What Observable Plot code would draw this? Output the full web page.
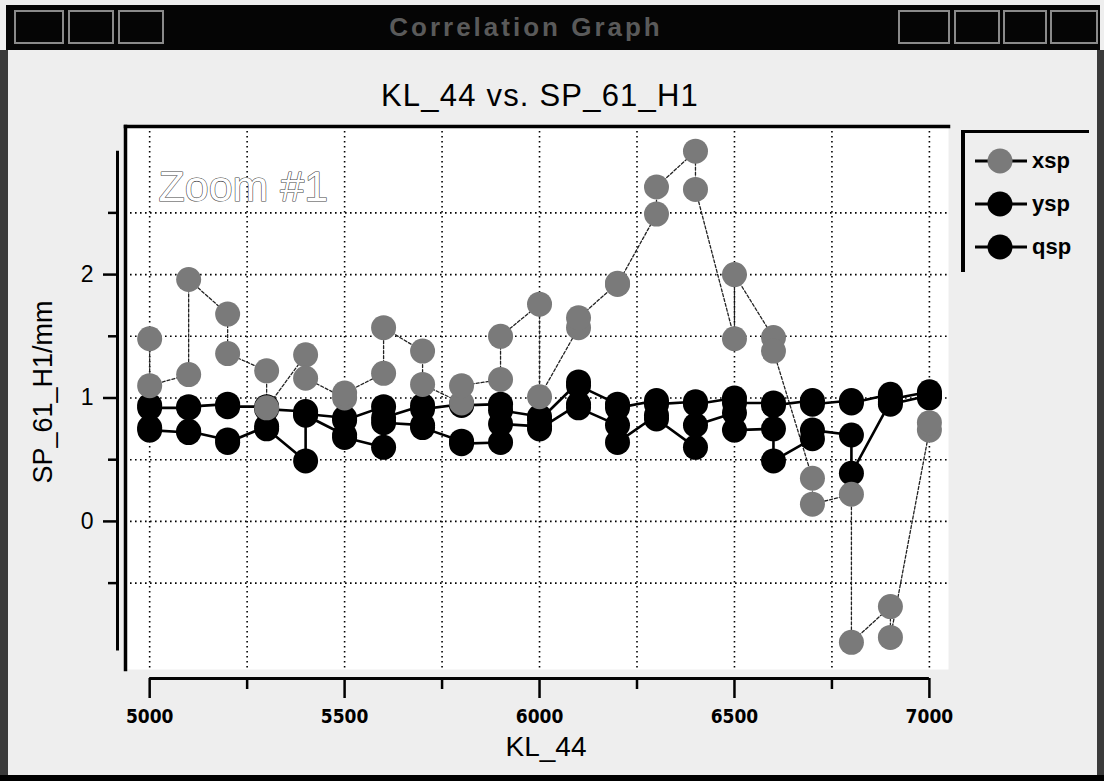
<!DOCTYPE html>
<html>
<head>
<meta charset="utf-8">
<script src="https://cdn.jsdelivr.net/npm/d3@7"></script>
<script src="https://cdn.jsdelivr.net/npm/@observablehq/plot@0.6"></script>
<style>
  html, body { margin: 0; padding: 0; background: #ededed; }
  #win { position: relative; width: 1104px; height: 781px; overflow: hidden; background: #eeeeee;
         font-family: "Liberation Sans", Arial, Helvetica, sans-serif; color: #000; }
  #bar { position: absolute; left: 6px; top: 5px; width: 1094px; height: 45px; background: #050505; }
  .btn { position: absolute; top: 5px; height: 34px; border: 2px solid #8a8a8a; box-sizing: border-box; }
  #bartitle { position: absolute; left: 0; top: 7px; width: 1040px; text-align: center; color: #5a5a5a;
              font-size: 26px; letter-spacing: 3px; font-weight: bold; }
  #lb { position: absolute; left: 0; top: 50px; width: 8px; height: 731px; background: #3a3a3a; }
  #rb { position: absolute; left: 1097px; top: 50px; width: 7px; height: 731px; background: #3a3a3a; }
  #bb { position: absolute; left: 0; top: 775px; width: 1104px; height: 6px; background: #000; }
  #title { position: absolute; left: 0; top: 78px; width: 1080px; text-align: center; font-size: 31px;
           letter-spacing: 1.2px; }
  #chart { position: absolute; left: 0; top: 60px; }
  #legend { position: absolute; left: 961px; top: 130px; width: 128px; height: 142px;
            border-top: 3px solid #000; border-left: 4px solid #000; box-sizing: border-box; }
  .item { position: absolute; left: 8px; height: 30px; display: flex; align-items: center; }
  .item span { font-size: 22px; font-weight: bold; margin-left: 3px; }
</style>
</head>
<body>
<div id="win">
  <div id="bar">
    <div class="btn" style="left:8px;width:50px"></div>
    <div class="btn" style="left:62px;width:46px"></div>
    <div class="btn" style="left:112px;width:46px"></div>
    <div id="bartitle">Correlation Graph</div>
    <div class="btn" style="left:892px;width:52px"></div>
    <div class="btn" style="left:948px;width:46px"></div>
    <div class="btn" style="left:997px;width:44px"></div>
    <div class="btn" style="left:1044px;width:48px"></div>
  </div>
  <div id="lb"></div><div id="rb"></div><div id="bb"></div>
  <div id="title">KL_44 vs. SP_61_H1</div>
  <div id="chart"></div>
  <div id="legend"></div>
</div>
<script>
// ---- data ----
const kl44 = [5000, 5100, 5200, 5300, 5400, 5500, 5600, 5700, 5800, 5900, 6000,
              6100, 6200, 6300, 6400, 6500, 6600, 6700, 6800, 6900, 7000];
// two readings per KL_44 value, in drawing order
const xsp = [[1.48, 1.10], [1.19, 1.96], [1.68, 1.36], [1.22, 0.92], [1.35, 1.16],
             [1.00, 1.04], [1.20, 1.57], [1.38, 1.11], [0.96, 1.10], [1.15, 1.50],
             [1.76, 1.01], [1.57, 1.65], [1.93, 1.92], [2.49, 2.71], [3.00, 2.69],
             [1.48, 2.00], [1.49, 1.38], [0.35, 0.14], [0.22, -0.98], [-0.69, -0.94],
             [0.74, 0.80]];
const ysp = [[0.94, 0.92], [0.92, 0.93], [0.95, 0.93], [0.93, 0.91], [0.89, 0.87],
             [0.84, 0.82], [0.93, 0.84], [0.94, 0.91], [0.95, 0.94], [0.95, 0.90],
             [0.85, 0.82], [1.13, 1.10], [0.95, 0.92], [0.98, 0.95], [0.97, 0.95],
             [1.00, 0.96], [0.96, 0.94], [0.98, 0.95], [0.98, 0.96], [1.03, 0.99],
             [1.05, 1.03]];
const qsp = [[0.76, 0.74], [0.72, 0.73], [0.66, 0.64], [0.77, 0.75], [0.49, 0.86],
             [0.70, 0.68], [0.60, 0.80], [0.78, 0.76], [0.65, 0.63], [0.64, 0.79],
             [0.77, 0.75], [0.95, 0.92], [0.78, 0.64], [0.86, 0.83], [0.60, 0.78],
             [0.88, 0.74], [0.75, 0.49], [0.67, 0.74], [0.70, 0.39], [0.97, 0.95],
             [1.02, 1.00]];
const seriesNames = ["xsp", "ysp", "qsp"];
const xMajorTicks = [5000, 5500, 6000, 6500, 7000];
const xMinorTicks = [5250, 5750, 6250, 6750];
const yMajorTicks = [0, 1, 2];
const yMinorTicks = [-0.5, 0.5, 1.5, 2.5];
const xGrid = [5000, 5250, 5500, 5750, 6000, 6250, 6500, 6750, 7000];
const yGrid = [-0.5, 0, 0.5, 1, 1.5, 2, 2.5];
const xDomain = [4938, 7049];
const yDomain = [-1.2, 3.2];
const yAxisSpan = [-1.05, 3.0];

// ---- table ----
const toRows = (name, pairs) => pairs.flatMap((p, i) => p.map(v => ({series: name, kl: kl44[i], v})));
const rX = toRows("xsp", xsp), rY = toRows("ysp", ysp), rQ = toRows("qsp", qsp);

const GREY = "#7a7a7a";
const grid = {stroke: "#000", strokeOpacity: 1, strokeWidth: 1.6, strokeDasharray: "1.6,3.4"};
const tickFont = "'Liberation Sans Narrow', 'DejaVu Sans Condensed', 'Liberation Sans', sans-serif";
const plain = d => String(d);

const chart = Plot.plot({
  width: 1104, height: 710,
  marginLeft: 125, marginRight: 156, marginTop: 66, marginBottom: 101,
  style: {background: "transparent", fontFamily: "'Liberation Sans', Arial, sans-serif", overflow: "visible"},
  x: {domain: xDomain},
  y: {domain: yDomain},
  marks: [
    Plot.frame({fill: "white", stroke: "none"}),
    Plot.gridX(xGrid, grid),
    Plot.gridY(yGrid, grid),
    Plot.frame({anchor: "top", strokeWidth: 3.5}),
    Plot.frame({anchor: "left", strokeWidth: 3.5}),
    // offset axes
    Plot.ruleY([yDomain[0]], {x1: xMajorTicks[0], x2: xMajorTicks[xMajorTicks.length - 1], dy: 9, strokeWidth: 3}),
    Plot.ruleX([xDomain[0]], {y1: yAxisSpan[0], y2: yAxisSpan[1], dx: -8, strokeWidth: 3}),
    Plot.axisX(xMajorTicks, {anchor: "bottom", tickSize: 20, tickPadding: 11, dy: 9, strokeWidth: 2.5,
      fontSize: 19, fontWeight: "bold", fontFamily: tickFont, tickFormat: plain, label: null}),
    Plot.axisX(xMinorTicks, {anchor: "bottom", tickSize: 11, dy: 9, strokeWidth: 2.5, tickFormat: () => "", label: null}),
    Plot.axisY(yMajorTicks, {anchor: "left", tickSize: 14, tickPadding: 10, dx: -8, strokeWidth: 2.5,
      fontSize: 23, tickFormat: plain, label: null}),
    Plot.axisY(yMinorTicks, {anchor: "left", tickSize: 9, dx: -8, strokeWidth: 2.5, tickFormat: () => "", label: null}),
    Plot.text(["SP_61_H1/mm"], {frameAnchor: "left", textAnchor: "middle", dx: -82, dy: -6, rotate: -90, fontSize: 27}),
    Plot.text(["KL_44"], {frameAnchor: "bottom", dx: 9, dy: 86, fontSize: 28}),
    Plot.text(["Zoom #1"], {frameAnchor: "top-left", dx: 33, dy: 44, textAnchor: "start", fontSize: 43,
      fill: "white", stroke: "#444", strokeWidth: 1.2}),
    // series
    Plot.line(rX, {x: "kl", y: "v", stroke: "#222", strokeWidth: 1.3, strokeDasharray: "3,2"}),
    Plot.line(rY, {x: "kl", y: "v", stroke: "#000", strokeWidth: 2.6}),
    Plot.line(rQ, {x: "kl", y: "v", stroke: "#000", strokeWidth: 2.6}),
    Plot.dot(rY, {x: "kl", y: "v", r: 12.5, fill: "#000", stroke: "none"}),
    Plot.dot(rQ, {x: "kl", y: "v", r: 12.5, fill: "#000", stroke: "none"}),
    Plot.dot(rX, {x: "kl", y: "v", r: 12.5, fill: GREY, stroke: "none"})
  ]
});
document.getElementById("chart").appendChild(chart);

// ---- legend ----
const legend = document.getElementById("legend");
const legendFill = {xsp: GREY, ysp: "#000", qsp: "#000"};
seriesNames.forEach((name, i) => {
  const div = document.createElement("div");
  div.className = "item";
  div.style.top = (13 + i * 43) + "px";
  div.innerHTML = `<svg width="56" height="30"><line x1="2" y1="15" x2="54" y2="15" stroke="#000" stroke-width="3"/>` +
    `<circle cx="27" cy="15" r="12.5" fill="${legendFill[name]}"/></svg><span>${name}</span>`;
  legend.appendChild(div);
});
</script>
</body>
</html>
